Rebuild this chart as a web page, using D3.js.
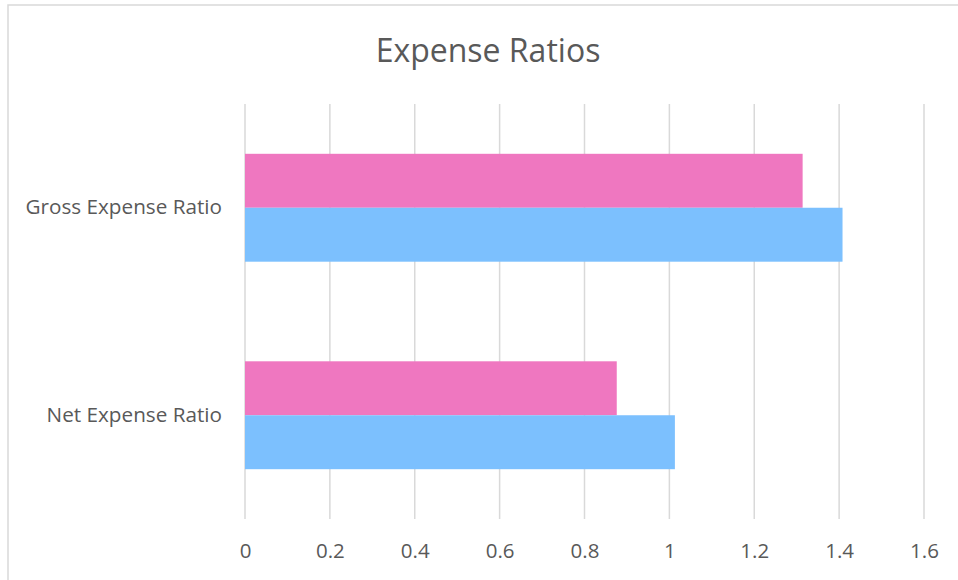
<!doctype html>
<html>
<head>
    <style>
        body { margin: 0; background: #fff; }
        svg text {
            fill: #595959;
            font-family: "Open Sans", sans-serif;
        }
    </style>
    <script src="https://d3js.org/d3.v7.min.js"></script>
</head>
<body>
    <script>
        // data
        var categories = ["Gross Expense Ratio", "Net Expense Ratio"];
        var seriesNames = ["Series 1", "Series 2"];
        var series1 = [1.314, 0.876];   // pink, upper bar
        var series2 = [1.408, 1.013];   // blue, lower bar
        var xTicks = [0, 0.2, 0.4, 0.6, 0.8, 1, 1.2, 1.4, 1.6];
        var colors = ["#EF77C0", "#7CC0FE"];

        var width = 958, height = 580;
        var margin = { top: 104, right: 34, bottom: 61, left: 245 };

        var svg = d3.select("body")
            .append("svg")
            .attr("width", width)
            .attr("height", height);

        // chart frame
        svg.append("rect")
            .attr("x", 8).attr("y", 5)
            .attr("width", 970).attr("height", 600)
            .attr("fill", "none")
            .attr("stroke", "#d9d9d9")
            .attr("stroke-width", 1.5);

        svg.append("text")
            .attr("x", 488)
            .attr("y", 51)
            .attr("dy", ".35em")
            .attr("text-anchor", "middle")
            .style("font-size", "32px")
            .text("Expense Ratios");

        var x = d3.scaleLinear()
            .domain([0, 1.6])
            .range([margin.left, width - margin.right]);

        var y = d3.scaleBand()
            .domain(categories)
            .range([margin.top, height - margin.bottom])
            .paddingInner(0.48)
            .paddingOuter(0.24);

        var ySub = d3.scaleBand()
            .domain(seriesNames)
            .range([0, y.bandwidth()]);

        // gridlines
        svg.append("g")
            .selectAll("line")
            .data(xTicks)
            .enter()
            .append("line")
            .attr("x1", function (d) { return x(d); })
            .attr("x2", function (d) { return x(d); })
            .attr("y1", margin.top)
            .attr("y2", height - margin.bottom)
            .attr("stroke", "#d9d9d9")
            .attr("stroke-width", 1.5);

        var groups = svg.append("g")
            .selectAll("g")
            .data(categories)
            .enter()
            .append("g")
            .attr("transform", function (d) { return "translate(0," + y(d) + ")"; });

        groups.selectAll("rect")
            .data(function (d, i) {
                return [
                    { name: seriesNames[0], value: series1[i], color: colors[0] },
                    { name: seriesNames[1], value: series2[i], color: colors[1] }
                ];
            })
            .enter()
            .append("rect")
            .attr("x", x(0))
            .attr("y", function (d) { return ySub(d.name); })
            .attr("width", function (d) { return x(d.value) - x(0); })
            .attr("height", ySub.bandwidth())
            .attr("fill", function (d) { return d.color; });

        // x axis labels
        var xAxis = d3.axisBottom(x)
            .tickValues(xTicks)
            .tickSize(0)
            .tickPadding(0)
            .tickFormat(d3.format("~g"));

        var gx = svg.append("g")
            .attr("transform", "translate(0," + (height - margin.bottom) + ")")
            .call(xAxis);
        gx.select(".domain").remove();
        gx.selectAll("text")
            .attr("y", 32)
            .attr("dy", ".35em")
            .style("font-size", "20.5px")
            .style("font-family", null);

        // y axis labels
        var yAxis = d3.axisLeft(y).tickSize(0).tickPadding(0);
        var gy = svg.append("g")
            .attr("transform", "translate(222,0)")
            .call(yAxis);
        gy.select(".domain").remove();
        gy.selectAll("text")
            .style("font-size", "20.7px")
            .style("font-family", null);
    </script>
</body>
</html>
